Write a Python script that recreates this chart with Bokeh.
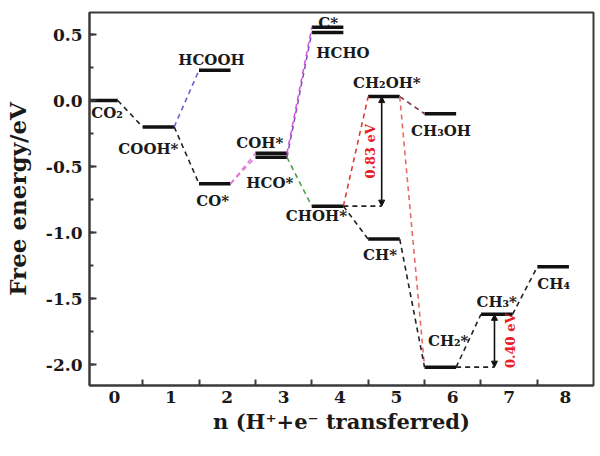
import math
from bokeh.plotting import figure
from bokeh.models import Range1d, FixedTicker, NumeralTickFormatter, Arrow, NormalHead, ColumnDataSource
from bokeh.core.properties import value
from bokeh.embed import file_html
from bokeh.resources import INLINE

# ---------------- data ----------------
species = ["CO2", "COOH*", "HCOOH", "CO*", "COH*", "HCO*", "C*", "HCHO", "CHOH*",
           "CH2OH*", "CH3OH", "CH*", "CH2*", "CH3*", "CH4"]
labels = ["CO₂", "COOH*", "HCOOH", "CO*", "COH*", "HCO*", "C*", "HCHO", "CHOH*",
          "CH₂OH*", "CH₃OH", "CH*", "CH₂*", "CH₃*", "CH₄"]
steps = [0, 1, 2, 2, 3, 3, 4, 4, 4, 5, 6, 5, 6, 7, 8]
energies = [0.00, -0.20, 0.23, -0.63, -0.40, -0.43, 0.555, 0.515, -0.80,
            0.03, -0.10, -1.05, -2.02, -1.62, -1.26]

path_from = ["CO2", "COOH*", "COOH*", "CO*", "CO*", "COH*", "HCO*", "HCO*", "CHOH*",
             "CH2OH*", "CH2OH*", "CHOH*", "CH*", "CH2*", "CH3*"]
path_to = ["COOH*", "HCOOH", "CO*", "COH*", "HCO*", "C*", "HCHO", "CHOH*", "CH2OH*",
           "CH3OH", "CH2*", "CH*", "CH2*", "CH3*", "CH4"]
path_colors = ["#222222", "#6a62d0", "#222222", "#e07ad8", "#e07ad8", "#d957d6", "#8a4fc8",
               "#4aa04a", "#e23a3a", "#7a3040", "#e86a6a", "#222222", "#222222", "#222222", "#222222"]

barrier_from = ["CHOH*", "CH2*"]
barrier_to = ["CH2OH*", "CH3*"]
barrier_text = ["0.83 eV", "0.40 eV"]

x_ticks = [0, 1, 2, 3, 4, 5, 6, 7, 8]
y_ticks = [-2.0, -1.5, -1.0, -0.5, 0.0, 0.5]

# ---------------- layout / style ----------------
LEFT, RIGHT = -0.5, 0.06          # level span relative to step
ARROW_DX = 0.74                    # arrow x offset from the lower level's step
label_layout = {
    "CO2":    (-0.41, -0.03, "left", "top"),
    "COOH*":  (-0.93, -0.10, "left", "top"),
    "HCOOH":  (-0.28, 0.08, "center", "alphabetic"),
    "CO*":    (-0.55, -0.065, "left", "top"),
    "COH*":   (-0.84, 0.075, "left", "alphabetic"),
    "HCO*":   (-0.66, -0.13, "left", "top"),
    "C*":     (-0.21, 0.035, "center", "alphabetic"),
    "HCHO":   (-0.42, -0.09, "left", "top"),
    "CHOH*":  (-0.96, -0.01, "left", "top"),
    "CH2OH*": (-0.77, 0.10, "left", "alphabetic"),
    "CH3OH":  (-0.74, -0.065, "left", "top"),
    "CH*":    (-0.59, -0.055, "left", "top"),
    "CH2*":   (-0.44, 0.27, "left", "top"),
    "CH3*":   (-0.58, 0.09, "left", "alphabetic"),
    "CH4":    (-0.50, -0.065, "left", "top"),
}
text_offsets = [(-0.19, 0.0), (0.28, 0.0)]  # red text relative to arrow x, mid-height
FONT = value("DejaVu Serif")
AXIS_COLOR = "#3a3a3a"

idx = {s: i for i, s in enumerate(species)}

p = figure(width=600, height=456, output_backend="svg", toolbar_location=None,
           x_range=Range1d(-0.442, 8.496), y_range=Range1d(-2.159, 0.667),
           min_border_left=88, min_border_right=7, min_border_top=12, min_border_bottom=71)
p.grid.visible = False
p.outline_line_color = AXIS_COLOR
p.outline_line_width = 2
p.background_fill_color = "white"
p.border_fill_color = "white"

# levels
lv = ColumnDataSource(dict(x0=[s + LEFT for s in steps], x1=[s + RIGHT for s in steps], y=energies))
p.segment(x0="x0", y0="y", x1="x1", y1="y", source=lv, line_color="#111111", line_width=3.5)

# connectors
cx0, cy0, cx1, cy1 = [], [], [], []
for a, b in zip(path_from, path_to):
    i, j = idx[a], idx[b]
    cx0.append(steps[i] + RIGHT); cy0.append(energies[i])
    cx1.append(steps[j] + LEFT); cy1.append(energies[j])
p.segment(x0=cx0, y0=cy0, x1=cx1, y1=cy1, line_color=path_colors, line_width=1.6, line_dash="5 4")

# barriers
for (a, b, t, off) in zip(barrier_from, barrier_to, barrier_text, text_offsets):
    i, j = idx[a], idx[b]
    ax = steps[i] + ARROW_DX
    p.segment(x0=[steps[i] + RIGHT], y0=[energies[i]], x1=[ax], y1=[energies[i]],
              line_color="#222222", line_width=1.6, line_dash="5 4")
    p.add_layout(Arrow(start=NormalHead(size=6, fill_color="#111111", line_color="#111111"),
                       end=NormalHead(size=6, fill_color="#111111", line_color="#111111"),
                       x_start=ax, y_start=energies[i], x_end=ax, y_end=energies[j],
                       line_color="#111111", line_width=1.6))
    p.text(x=[ax + off[0]], y=[(energies[i] + energies[j]) / 2 + off[1]], text=[t],
           angle=math.pi / 2, text_align="center", text_baseline="middle",
           text_font=FONT, text_font_style="bold", text_font_size="13px", text_color="#e8202a")

# labels
for s, lab, st, e in zip(species, labels, steps, energies):
    dx, dy, al, bl = label_layout[s]
    p.text(x=[st + dx], y=[e + dy], text=[lab], text_align=al, text_baseline=bl,
           text_font=FONT, text_font_style="bold", text_font_size="15px", text_color="#1a1a1a")

# axes
xa = p.xaxis[0]
xa.ticker = FixedTicker(ticks=x_ticks, minor_ticks=[t - 0.5 for t in x_ticks] + [8.5])
xa.major_tick_in = 0
xa.major_tick_out = 0
xa.minor_tick_in = 6
xa.minor_tick_out = 0
xa.axis_label = "n (H⁺+e⁻ transferred)"

ya = p.yaxis[0]
ya.ticker = FixedTicker(ticks=y_ticks, minor_ticks=[-2.25 + 0.25 * k for k in range(12)])
ya.formatter = NumeralTickFormatter(format="0.0")
ya.major_tick_in = 7
ya.major_tick_out = 0
ya.minor_tick_in = 4
ya.minor_tick_out = 0
ya.axis_label = "Free energy/eV"

for ax in (xa, ya):
    ax.axis_line_color = AXIS_COLOR
    ax.axis_line_width = 2
    ax.major_tick_line_color = AXIS_COLOR
    ax.minor_tick_line_color = AXIS_COLOR
    ax.major_tick_line_width = 2
    ax.minor_tick_line_width = 2
    ax.major_label_text_font = "DejaVu Serif"
    ax.major_label_text_font_style = "bold"
    ax.major_label_text_font_size = "17px"
    ax.major_label_text_color = "#1a1a1a"
    ax.axis_label_text_font = "DejaVu Serif"
    ax.axis_label_text_font_style = "bold"
    ax.axis_label_text_color = "#1a1a1a"

xa.axis_label_text_font_size = "21px"
ya.axis_label_text_font_size = "23px"
xa.major_label_standoff = 5
xa.axis_label_standoff = 3
ya.major_label_standoff = 7
ya.axis_label_standoff = 12

open("out.html", "w").write(file_html(p, INLINE))
